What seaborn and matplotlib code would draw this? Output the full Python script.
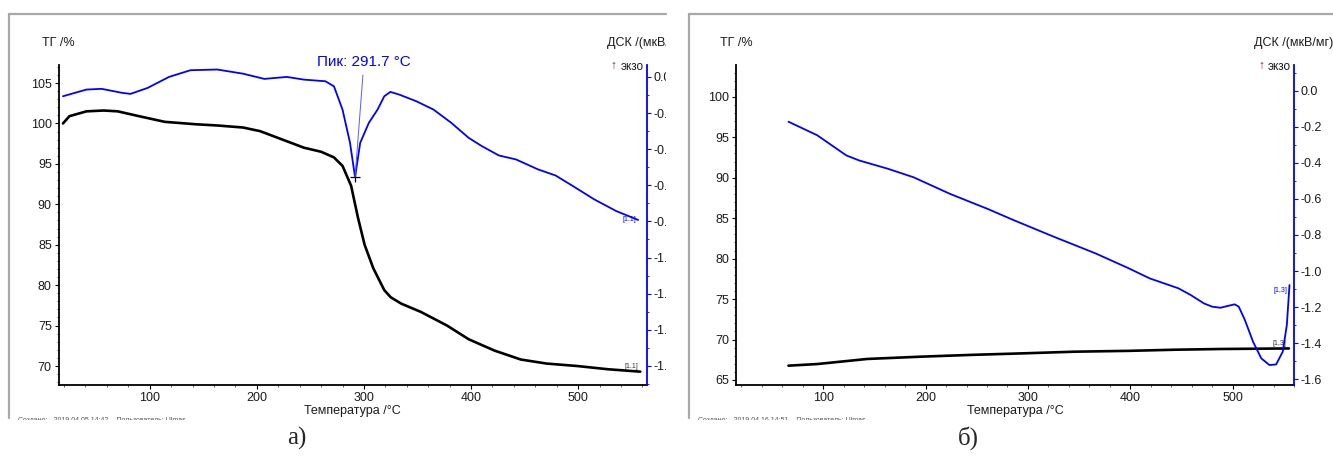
import numpy as np
import seaborn as sns
import matplotlib.pyplot as plt
from matplotlib.lines import Line2D
from matplotlib.ticker import MultipleLocator
from matplotlib.transforms import Bbox, TransformedBbox

# --- data ---
# panel а)
tg_a_t = [19, 25, 41, 57, 70, 90, 114, 143, 163, 187, 203, 224, 244, 260, 272, 280, 288,
          294.5, 300.6, 308.7, 318.9, 325, 335, 353, 377.6, 397.9, 422, 446.5, 470.6, 499, 527.6, 558]
tg_a = [100.0, 100.9, 101.5, 101.6, 101.5, 100.9, 100.2, 99.9, 99.75, 99.5, 99.05, 98.0, 97.0, 96.5,
        95.8, 94.75, 92.3, 88.3, 85.0, 82.1, 79.4, 78.5, 77.7, 76.7, 75.0, 73.3, 71.9, 70.8, 70.3,
        70.0, 69.6, 69.3]
dsc_a_t = [19, 41, 55, 74, 82, 98, 118, 138, 163, 187, 207, 228, 244, 264, 272, 280, 287, 291.7,
           296.5, 304.6, 312.7, 319, 324.7, 333, 349, 365, 381.5, 397.7, 410, 426, 442, 462.5, 479,
           495, 515, 535.6, 556]
dsc_a = [-0.107, -0.070, -0.066, -0.088, -0.094, -0.061, 0.0, 0.037, 0.041, 0.018, -0.011, 0.0,
         -0.015, -0.024, -0.052, -0.181, -0.365, -0.555, -0.365, -0.254, -0.181, -0.107, -0.083,
         -0.098, -0.135, -0.181, -0.254, -0.337, -0.383, -0.435, -0.457, -0.512, -0.546, -0.604,
         -0.678, -0.743, -0.792]
peak_t = 291.7
peak_label = "Пик: 291.7 °C"

# panel б)
tg_b_t = [66, 94, 143, 195, 244, 297, 346, 398, 443, 488, 555]
tg_b = [66.77, 66.97, 67.6, 67.88, 68.1, 68.3, 68.5, 68.6, 68.74, 68.83, 68.9]
dsc_b_t = [66, 94, 122.5, 135, 163, 188, 224, 261, 285, 325, 366, 398.5, 419, 447, 459, 472, 480,
           488, 496, 502, 506, 512, 520, 528, 536, 542.5, 549, 553, 555.6]
dsc_b = [-0.171, -0.246, -0.358, -0.386, -0.432, -0.479, -0.572, -0.656, -0.715, -0.809, -0.902,
         -0.985, -1.041, -1.096, -1.133, -1.180, -1.198, -1.204, -1.193, -1.185, -1.198, -1.272,
         -1.393, -1.485, -1.522, -1.519, -1.448, -1.300, -1.078]

sns.set_style("ticks")
plt.rcParams['font.family'] = ['Liberation Sans', 'DejaVu Sans']
plt.rcParams['axes.unicode_minus'] = False

W, H = 1333, 457
fig = plt.figure(figsize=(W / 100, H / 100), dpi=100)


def fx(px):
    return px / W


def fy(py):
    return 1 - py / H


def panel(x0, x1, frame_x0, frame_x1, xlim, tg_lim, dsc_lim, tg_ticks, tag, footer, label_x):
    ax = fig.add_axes([fx(x0), fy(385), fx(x1 - x0), (385 - 65) / H])
    ax2 = ax.twinx()
    ax.set_xlim(*xlim)
    ax.set_ylim(*tg_lim)
    ax2.set_ylim(*dsc_lim)
    ax.set_yticks(tg_ticks)
    ax.set_xticks([100, 200, 300, 400, 500])
    ax2.set_yticks(np.round(np.arange(0, -1.61, -0.2), 1))
    ax2.yaxis.set_major_formatter(plt.FormatStrFormatter('%.1f'))
    ax.xaxis.set_minor_locator(MultipleLocator(20))
    ax.yaxis.set_minor_locator(MultipleLocator(1))
    ax2.yaxis.set_minor_locator(MultipleLocator(0.1))
    for s in ['top', 'right']:
        ax.spines[s].set_visible(False)
    for s in ['top', 'left', 'bottom']:
        ax2.spines[s].set_visible(False)
    ax.spines['left'].set_color('black')
    ax.spines['bottom'].set_color('black')
    ax.spines['left'].set_linewidth(1.3)
    ax.spines['bottom'].set_linewidth(1.3)
    ax2.spines['right'].set_color('blue')
    ax2.spines['right'].set_linewidth(1.3)
    ax.tick_params(which='major', length=3, width=0.8, labelsize=9, pad=2, colors='black',
                   labelcolor='#1a1a1a')
    ax.tick_params(which='minor', length=1.5, width=0.6, colors='#444444')
    ax2.tick_params(which='major', length=3, width=0.8, labelsize=9, pad=2, colors='blue',
                    labelcolor='#1a1a1a')
    ax2.tick_params(which='minor', length=1.5, width=0.6, colors='blue')
    ax.set_xlabel("Температура /°C", fontsize=9, labelpad=1, color='#1a1a1a')
    ax.set_ylabel("")
    ax2.set_ylabel("")

    fig.text(fx(x0), fy(43), "ТГ /%", fontsize=9, ha='center', va='center', color='#1a1a1a')
    t1 = fig.text(fx(x1 - 40), fy(43), "ДСК /(мкВ/мг)", fontsize=9, ha='left', va='center',
                  color='#1a1a1a')
    fig.text(fx(x1 - 3), fy(67), "экзо", fontsize=8.5, ha='right', va='center', color='#1a1a1a')
    fig.text(fx(x1 - 30), fy(66), "↑", fontsize=8.5, ha='right', va='center', color='#8b1a1a')

    # frame of the screenshot
    fig.add_artist(Line2D([fx(frame_x0), fx(frame_x1)], [fy(14), fy(14)], color='#a8a8a8',
                          lw=1.6, transform=fig.transFigure))
    fig.add_artist(Line2D([fx(frame_x0), fx(frame_x0)], [fy(14), fy(418)], color='#a8a8a8',
                          lw=1.6, transform=fig.transFigure))
    clip = TransformedBbox(Bbox([[fx(frame_x0), fy(420)], [fx(frame_x1), 1]]), fig.transFigure)
    t2 = fig.text(fx(frame_x0 + 9), fy(421), footer, fontsize=5, ha='left', va='center',
                  color='#555555')
    for t in (t1, t2):
        t.set_clip_box(clip)
        t.set_clip_on(True)
    fig.text(fx(label_x), fy(438), tag, fontsize=18, ha='center', va='center',
             family=['Liberation Serif', 'DejaVu Serif'])
    return ax, ax2, clip


ax, ax2, clip_a = panel(58.7, 646.7, 9, 666, (15, 564), (67.65, 107.23), (-1.706, 0.066),
                        [70, 75, 80, 85, 90, 95, 100, 105], "а)",
                        "Создано:   2019.04.05 14:42    Пользователь: Ulmas", 297)
sns.lineplot(x=tg_a_t, y=tg_a, ax=ax, color='black', lw=1.9, sort=False)
sns.lineplot(x=dsc_a_t, y=dsc_a, ax=ax2, color='blue', lw=1.3, sort=False)
ipk = dsc_a_t.index(peak_t)
ax2.plot(dsc_a_t[ipk], dsc_a[ipk], marker='+', color='black', ms=7, mew=0.9)
ax2.annotate(peak_label, xy=(dsc_a_t[ipk], dsc_a[ipk]), xytext=(300, 0.083), fontsize=11,
             color='blue', ha='center', va='center', annotation_clip=False,
             arrowprops=dict(arrowstyle='-', color='#5a5aff', lw=0.7, shrinkA=2, shrinkB=0))
ax.text(tg_a_t[-1] - 2, tg_a[-1] + 0.2, "[1.1]", fontsize=5, ha='right', va='bottom', color='#333333')
ax2.text(dsc_a_t[-1] - 2, dsc_a[-1], "[1.1]", fontsize=5, ha='right', va='center', color='blue')

bx, bx2, clip_b = panel(736, 1294, 689, 1340, (14.7, 560), (64.38, 103.94), (-1.633, 0.144),
                        [65, 70, 75, 80, 85, 90, 95, 100], "б)",
                        "Создано:   2019.04.16 14:51    Пользователь: Ulmas", 968)
sns.lineplot(x=tg_b_t, y=tg_b, ax=bx, color='black', lw=1.9, sort=False)
sns.lineplot(x=dsc_b_t, y=dsc_b, ax=bx2, color='blue', lw=1.3, sort=False)
bx.text(tg_b_t[-1] - 2, tg_b[-1] + 0.2, "[1,3]", fontsize=5, ha='right', va='bottom', color='#333333')
bx2.text(dsc_b_t[-1] - 2, dsc_b[-1] - 0.03, "[1,3]", fontsize=5, ha='right', va='center', color='blue')

# the left screenshot is cut at its right edge
fig.canvas.draw()
for tk in ax2.yaxis.get_major_ticks():
    tk.label2.set_clip_box(clip_a)
    tk.label2.set_clip_on(True)

fig.savefig("out.png", dpi=100)
